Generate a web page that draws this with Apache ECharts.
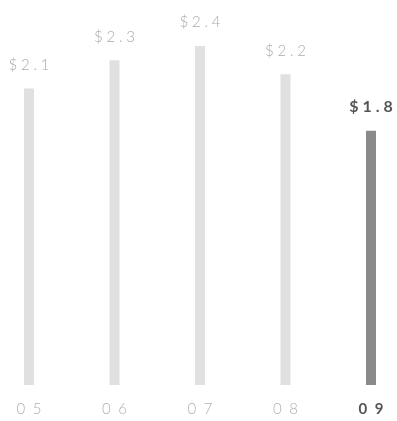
<!DOCTYPE html>
<html>
<head>
<meta charset="utf-8">
<script src="https://cdn.jsdelivr.net/npm/echarts@6/dist/echarts.min.js"></script>
<style>html,body{margin:0;padding:0;background:#fff}#c{width:397px;height:421px}</style>
</head>
<body>
<div id="c"></div>
<script>
var categories = ['05', '06', '07', '08', '09'];
var values = [2.1, 2.3, 2.4, 2.2, 1.8];
var highlightIndex = 4;

var SP = '\u2005';
function spaced(s, sep) { return s.split('').join(sep); }

var chart = echarts.init(document.getElementById('c'));
chart.setOption({
  animation: false,
  grid: { left: 29, right: 26, top: 32, bottom: 36 },
  xAxis: {
    type: 'category',
    data: categories,
    boundaryGap: false,
    axisLine: { show: false },
    axisTick: { show: false },
    axisLabel: {
      margin: 17,
      formatter: function (v, i) {
        var t = spaced(v, '\u2002');
        return i === highlightIndex ? '{b|' + t + '}' : '{n|' + t + '}';
      },
      rich: {
        n: { fontFamily: 'Lato', fontSize: 15, fontWeight: 300, color: '#b0b0b0' },
        b: { fontFamily: 'Lato', fontSize: 15, fontWeight: 'bold', color: '#555555' }
      }
    }
  },
  yAxis: {
    type: 'value', min: 0, max: 2.5,
    show: false,
    splitLine: { show: false }
  },
  series: [{
    type: 'bar',
    data: values.map(function (v, i) {
      var hi = i === highlightIndex;
      return {
        value: v,
        itemStyle: { color: hi ? '#8a8a8a' : '#e0e0e0' },
        label: hi ? {
          fontWeight: 'bold', color: '#555555', fontSize: 16
        } : {}
      };
    }),
    barWidth: 10,
    label: {
      show: true,
      position: 'top',
      distance: 16,
      fontFamily: 'Lato',
      fontSize: 15,
      fontWeight: 300,
      color: '#aaaaaa',
      formatter: function (p) { return spaced('$' + p.value.toFixed(1), SP); }
    }
  }]
});
</script>
</body>
</html>
